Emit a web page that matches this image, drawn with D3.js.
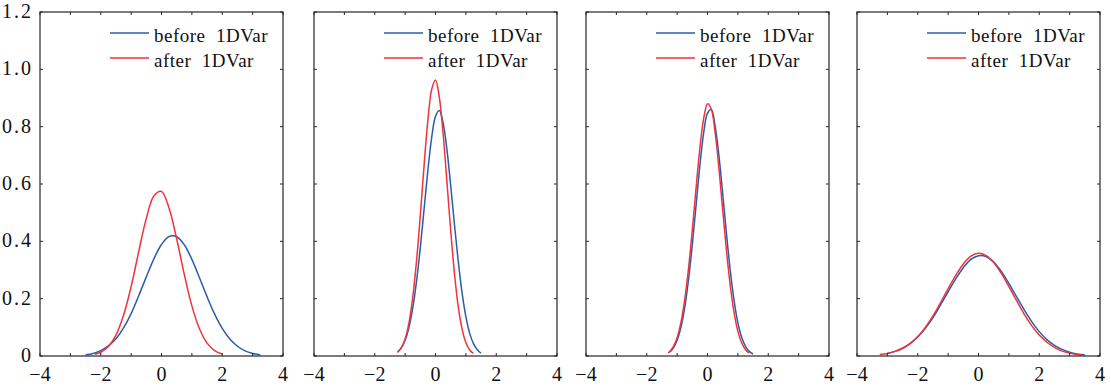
<!DOCTYPE html>
<html>
<head>
<meta charset="utf-8">
<script src="https://cdn.jsdelivr.net/npm/d3@7"></script>
<style>
  html, body { margin: 0; padding: 0; background: #fff; }
  svg { display: block; }
  svg text { font-family: "Liberation Serif", "DejaVu Serif", "Noto Serif", "Tinos", "FreeSerif", "Nimbus Roman", "Times New Roman", Times, serif; }
</style>
</head>
<body>
<div id="chart"></div>
<script>
// ticks and legend
const xTicks = [-4, -3, -2, -1, 0, 1, 2, 3, 4]
const xTickLabels = [-4, -2, 0, 2, 4]
const yTicks = [0, 0.2, 0.4, 0.6, 0.8, 1.0, 1.2]
const yTickLabels = ["0", "0.2", "0.4", "0.6", "0.8", "1.0", "1.2"]
const seriesNames = ["before  1DVar", "after  1DVar"]

// panel 1
const p1BeforeX = [-2.5, -2.25, -2, -1.75, -1.5, -1.25, -1, -0.75, -0.5, -0.25, 0, 0.25, 0.5, 0.75, 1, 1.25, 1.5, 1.75, 2, 2.25, 2.5, 2.75, 3, 3.25]
const p1BeforeY = [0.004, 0.009, 0.019, 0.035, 0.060, 0.098, 0.148, 0.210, 0.276, 0.339, 0.389, 0.417, 0.416, 0.388, 0.337, 0.273, 0.207, 0.146, 0.096, 0.059, 0.034, 0.018, 0.009, 0.004]
const p1AfterX = [-2.2, -2, -1.75, -1.5, -1.25, -1, -0.75, -0.5, -0.25, 0, 0.25, 0.5, 0.75, 1, 1.25, 1.5, 1.75, 2]
const p1AfterY = [0.006, 0.013, 0.033, 0.073, 0.142, 0.242, 0.364, 0.480, 0.558, 0.574, 0.515, 0.408, 0.285, 0.175, 0.095, 0.045, 0.019, 0.007]

// panel 2
const p2BeforeX = [-1.25, -1.125, -1, -0.875, -0.75, -0.625, -0.5, -0.375, -0.25, -0.125, 0, 0.125, 0.25, 0.375, 0.5, 0.625, 0.75, 0.875, 1, 1.125, 1.25, 1.375, 1.5]
const p2BeforeY = [0.014, 0.029, 0.055, 0.099, 0.167, 0.260, 0.378, 0.513, 0.648, 0.763, 0.836, 0.856, 0.813, 0.721, 0.595, 0.458, 0.329, 0.220, 0.137, 0.079, 0.043, 0.022, 0.010]
const p2AfterX = [-1.25, -1.125, -1, -0.875, -0.75, -0.625, -0.5, -0.375, -0.25, -0.125, 0, 0.125, 0.25, 0.375, 0.5, 0.625, 0.75, 0.875, 1, 1.125, 1.25]
const p2AfterY = [0.012, 0.028, 0.059, 0.115, 0.204, 0.331, 0.491, 0.666, 0.823, 0.930, 0.963, 0.903, 0.777, 0.610, 0.438, 0.287, 0.171, 0.094, 0.047, 0.021, 0.009]

// panel 3
const p3BeforeX = [-1.25, -1.125, -1, -0.875, -0.75, -0.625, -0.5, -0.375, -0.25, -0.125, 0, 0.125, 0.25, 0.375, 0.5, 0.625, 0.75, 0.875, 1, 1.125, 1.25, 1.375, 1.5]
const p3BeforeY = [0.013, 0.028, 0.055, 0.100, 0.169, 0.266, 0.388, 0.527, 0.665, 0.779, 0.847, 0.860, 0.803, 0.700, 0.567, 0.426, 0.298, 0.193, 0.116, 0.065, 0.034, 0.016, 0.007]
const p3AfterX = [-1.3, -1.25, -1.125, -1, -0.875, -0.75, -0.625, -0.5, -0.375, -0.25, -0.125, 0, 0.125, 0.25, 0.375, 0.5, 0.625, 0.75, 0.875, 1, 1.125, 1.25, 1.375]
const p3AfterY = [0.011, 0.015, 0.033, 0.064, 0.117, 0.196, 0.305, 0.440, 0.587, 0.725, 0.829, 0.880, 0.861, 0.781, 0.656, 0.510, 0.367, 0.245, 0.151, 0.086, 0.046, 0.022, 0.010]

// panel 4
const p4BeforeX = [-3, -2.75, -2.5, -2.25, -2, -1.75, -1.5, -1.25, -1, -0.75, -0.5, -0.25, 0, 0.25, 0.5, 0.75, 1, 1.25, 1.5, 1.75, 2, 2.25, 2.5, 2.75, 3, 3.25, 3.5]
const p4BeforeY = [0.009, 0.016, 0.027, 0.043, 0.066, 0.097, 0.134, 0.178, 0.224, 0.269, 0.308, 0.337, 0.350, 0.347, 0.328, 0.295, 0.253, 0.207, 0.162, 0.120, 0.085, 0.057, 0.037, 0.023, 0.013, 0.007, 0.004]
const p4AfterX = [-3.25, -3, -2.75, -2.5, -2.25, -2, -1.75, -1.5, -1.25, -1, -0.75, -0.5, -0.25, 0, 0.25, 0.5, 0.75, 1, 1.25, 1.5, 1.75, 2, 2.25, 2.5, 2.75, 3, 3.25, 3.375]
const p4AfterY = [0.005, 0.009, 0.016, 0.027, 0.044, 0.068, 0.100, 0.140, 0.186, 0.235, 0.281, 0.321, 0.348, 0.358, 0.350, 0.326, 0.288, 0.242, 0.194, 0.147, 0.106, 0.073, 0.048, 0.030, 0.017, 0.010, 0.005, 0.004]

const panels = [
    { before: [p1BeforeX, p1BeforeY], after: [p1AfterX, p1AfterY], yLabels: true },
    { before: [p2BeforeX, p2BeforeY], after: [p2AfterX, p2AfterY], yLabels: false },
    { before: [p3BeforeX, p3BeforeY], after: [p3AfterX, p3AfterY], yLabels: false },
    { before: [p4BeforeX, p4BeforeY], after: [p4AfterX, p4AfterY], yLabels: false }
]

const width = 1111, height = 387
const panelLeft = [40, 314, 586, 857]
const panelW = 243
const plotTop = 12, plotBottom = 356
const colors = ["#2b5cab", "#f2313a"]
const axisColor = "#262626"

const svg = d3.select("#chart").append("svg")
    .attr("width", width)
    .attr("height", height)
    .attr("viewBox", [0, 0, width, height])

const y = d3.scaleLinear().domain([0, 1.2]).range([plotBottom, plotTop])

panels.forEach((p, i) => {
    const left = panelLeft[i]
    const x = d3.scaleLinear().domain([-4, 4]).range([left, left + panelW])
    const g = svg.append("g")

    // curves
    const line = d3.line()
        .x(d => x(d[0]))
        .y(d => y(d[1]))
        .curve(d3.curveCatmullRom.alpha(0.5))

    ;[p.before, p.after].forEach((s, k) => {
        const pts = s[0].map((v, j) => [v, s[1][j]])
        g.append("path")
            .attr("d", line(pts))
            .attr("fill", "none")
            .attr("stroke", colors[k])
            .attr("stroke-width", 1.5)
    })

    // ticks (inward, all four sides)
    const tl = 3
    g.selectAll(".xt").data(xTicks).join("path")
        .attr("d", d => `M${x(d)},${plotBottom}v${-tl}M${x(d)},${plotTop}v${tl}`)
        .attr("stroke", axisColor).attr("stroke-width", 1)
    g.selectAll(".yt").data(yTicks).join("path")
        .attr("d", d => `M${left},${y(d)}h${tl}M${left + panelW},${y(d)}h${-tl}`)
        .attr("stroke", axisColor).attr("stroke-width", 1)

    // box
    g.append("rect")
        .attr("x", left).attr("y", plotTop)
        .attr("width", panelW).attr("height", plotBottom - plotTop)
        .attr("fill", "none")
        .attr("stroke", axisColor)
        .attr("stroke-width", 1.2)

    // x labels
    g.selectAll(".xl").data(xTickLabels).join("text")
        .attr("x", d => x(d))
        .attr("y", 381)
        .attr("text-anchor", "middle")
        .attr("font-size", "20px")
        .attr("fill", "#111")
        .text(d => d < 0 ? "\u2212" + Math.abs(d) : d)

    if (p.yLabels) {
        g.selectAll(".yl").data(yTicks).join("text")
            .attr("x", 33)
            .attr("y", d => y(d) + 6)
            .attr("text-anchor", "end")
            .attr("font-size", "20px")
            .attr("letter-spacing", "2px")
            .attr("fill", "#111")
            .text((d, j) => yTickLabels[j])
    }

    // legend
    seriesNames.forEach((name, k) => {
        const ly = 33 + k * 25
        g.append("line")
            .attr("x1", left + 70).attr("x2", left + 109)
            .attr("y1", ly).attr("y2", ly)
            .attr("stroke", colors[k])
            .attr("stroke-width", 1.5)
        g.append("text")
            .attr("x", left + 114)
            .attr("y", ly + 9)
            .attr("font-size", "19px")
            .attr("letter-spacing", "0.5px")
            .attr("fill", "#111")
            .style("white-space", "pre")
            .text(name)
    })
})
</script>
</body>
</html>
